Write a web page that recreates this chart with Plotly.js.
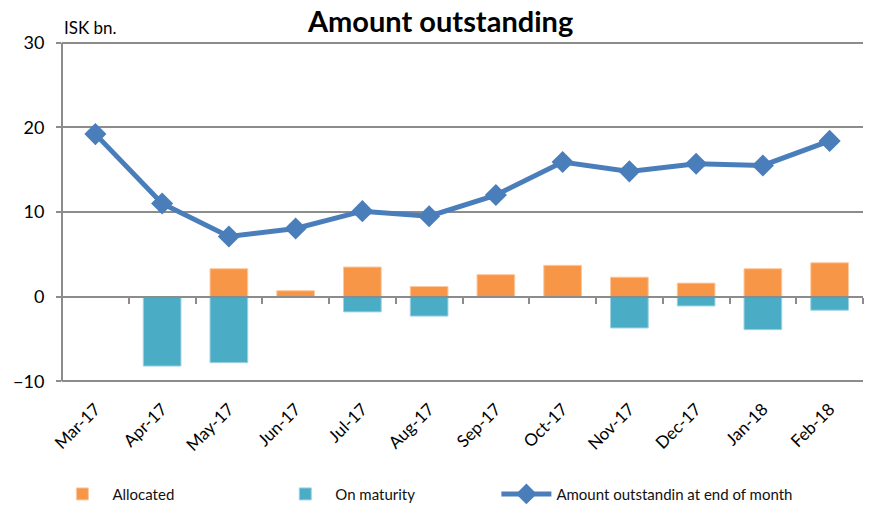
<!DOCTYPE html>
<html>
<head>
<meta charset="utf-8">
<script src="https://cdn.plot.ly/plotly-3.0.1.min.js"></script>
<style>
  body { margin: 0; background: #fff; }
  #chart { width: 869px; height: 516px; }
</style>
</head>
<body>
<div id="chart"></div>
<script>
// months on the category axis
let months = ["Mar-17", "Apr-17", "May-17", "Jun-17", "Jul-17", "Aug-17",
              "Sep-17", "Oct-17", "Nov-17", "Dec-17", "Jan-18", "Feb-18"];
// ISK bn. (null = no bar that month)
let allocated  = [null, null, 3.3, 0.7, 3.5, 1.2, 2.6, 3.7, 2.3, 1.6, 3.3, 4.0];
let onMaturity = [null, -8.2, -7.8, null, -1.8, -2.3, null, null, -3.7, -1.1, -3.9, -1.6];
let outstanding = [19.2, 11.0, 7.1, 8.05, 10.1, 9.5, 12.0, 15.9, 14.8, 15.7, 15.5, 18.4];
let seriesNames = ["Allocated", "On maturity", "Amount outstandin at end of month"];

let fontName = "Lato, 'Open Sans', sans-serif";
let gridCol = "#8c8c8c";
// widen the first two legend entries like the original
let pad = n => "\u00a0".repeat(n);

let data = [
  {
    x: months, y: allocated, type: "bar", name: seriesNames[0] + pad(25),
    marker: { color: "#f79646", line: { color: "#fbc9a2", width: 1 } }
  },
  {
    x: months, y: onMaturity, type: "bar", name: seriesNames[1] + pad(20),
    marker: { color: "#4bacc6", line: { color: "#9fd3e2", width: 1 } }
  },
  {
    x: months, y: outstanding, type: "scatter", mode: "lines+markers",
    name: seriesNames[2],
    line: { color: "#4a7ebb", width: 5 },
    marker: { symbol: "diamond", size: 17, color: "#4a7ebb" }
  },
  // carries the categories for the tick marks sitting on the zero line
  {
    x: months, y: outstanding, xaxis: "x2", yaxis: "y", mode: "none",
    showlegend: false, hoverinfo: "skip"
  }
];

let layout = {
  width: 869, height: 516,
  margin: { l: 62, r: 6, t: 41, b: 125 },
  paper_bgcolor: "#fff", plot_bgcolor: "#fff",
  font: { family: fontName, color: "#000" },
  title: {
    text: "<b>Amount outstanding</b>",
    font: { family: fontName, size: 29, color: "#000" },
    x: 0.507, xref: "container", xanchor: "center",
    y: 0.957, yref: "container", yanchor: "middle"
  },
  barmode: "relative",
  bargap: 0.435,
  xaxis: {
    type: "category",
    showline: false, showgrid: false, ticks: "",
    tickangle: -45,
    ticklabelstandoff: 12,
    tickfont: { size: 17, color: "#000" },
    range: [-0.5, 11.5]
  },
  xaxis2: {
    type: "category",
    overlaying: "x", anchor: "free", position: 10.2 / 40.4,
    categoryorder: "array", categoryarray: months,
    range: [-0.5, 11.5],
    showticklabels: false, showgrid: false, showline: false, zeroline: false,
    ticks: "outside", tickson: "boundaries", ticklen: 6,
    tickwidth: 2, tickcolor: gridCol
  },
  yaxis: {
    range: [-10.2, 30.2], tickvals: [-10, 0, 10, 20, 30],
    showgrid: true, gridcolor: gridCol, gridwidth: 2,
    zeroline: true, zerolinecolor: gridCol, zerolinewidth: 2,
    zerolinelayer: "above traces",
    showline: false,
    ticks: "outside", ticklen: 5, tickwidth: 2, tickcolor: gridCol,
    ticklabelstandoff: 8,
    tickfont: { size: 18, color: "#000" }
  },
  shapes: [
    // y axis line, from the 30 grid line down to the -10 grid line
    { type: "line", xref: "paper", yref: "y", x0: 0, x1: 0, y0: -10, y1: 30,
      line: { color: gridCol, width: 2 } }
  ],
  legend: {
    orientation: "h",
    x: -0.012, xanchor: "left",
    y: -0.325, yanchor: "middle",
    itemwidth: 50,
    font: { size: 15, color: "#111" },
    traceorder: "normal"
  },
  annotations: [
    {
      text: "ISK bn.", xref: "paper", yref: "paper",
      x: 0, y: 1.04, xanchor: "left", yanchor: "middle",
      showarrow: false, font: { size: 17, color: "#000" }
    }
  ],
  showlegend: true
};

Plotly.newPlot("chart", data, layout, { displayModeBar: false, staticPlot: true });
</script>
</body>
</html>
